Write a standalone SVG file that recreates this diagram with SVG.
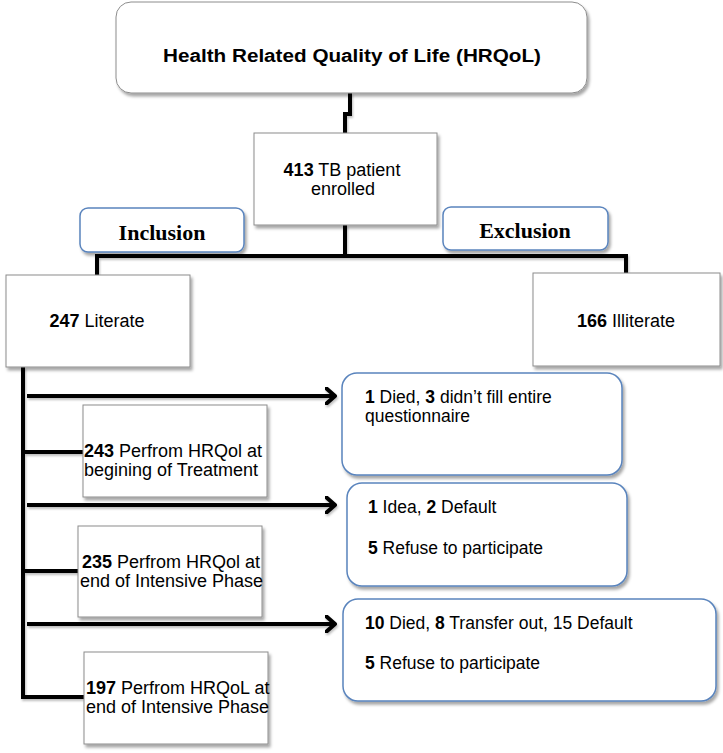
<svg xmlns="http://www.w3.org/2000/svg" width="723" height="753" viewBox="0 0 723 753">
<defs>
<filter id="sh" x="-10%" y="-10%" width="130%" height="130%">
<feDropShadow dx="2" dy="3" stdDeviation="1.5" flood-color="#000" flood-opacity="0.35"/>
</filter>
<filter id="lsh" filterUnits="userSpaceOnUse" x="0" y="0" width="723" height="753">
<feDropShadow dx="1" dy="2" stdDeviation="1" flood-color="#000" flood-opacity="0.25"/>
</filter>
<marker id="chev" viewBox="0 0 12 18" refX="10" refY="9" markerWidth="12" markerHeight="18" markerUnits="userSpaceOnUse" orient="auto">
<path d="M1.5,1.5 L10,9 L1.5,16.5" fill="none" stroke="#000" stroke-width="4" stroke-linecap="round" stroke-linejoin="round"/>
</marker>
</defs>
<style>
.box{fill:#fff;stroke:#8c8c8c;stroke-width:1;filter:url(#sh)}
.rbox{fill:#fff;stroke:#5a84bd;stroke-width:1.5;filter:url(#sh)}
.ln{fill:none;stroke:#000;stroke-width:4;stroke-linejoin:miter}
.t{font-family:"Liberation Sans",Arial,sans-serif;font-size:18px;fill:#000}
.r{font-size:17.5px}
.b{font-weight:bold}
.tm{font-family:"Liberation Serif","Times New Roman",serif;font-size:22px;font-weight:bold;fill:#000}
</style>
<g id="connectors" filter="url(#lsh)">
<path class="ln" d="M350,93 V114 H345 V135"/>
<path class="ln" d="M345,225 V256"/>
<path class="ln" d="M97,275 V256 H626 V274"/>
<path class="ln" d="M23,367 V699"/>
<path class="ln" d="M23,452 H83"/>
<path class="ln" d="M23,571 H78"/>
<path class="ln" d="M23,697 H84"/>
<path class="ln" d="M27,396 H335" marker-end="url(#chev)"/>
<path class="ln" d="M27,505 H335" marker-end="url(#chev)"/>
<path class="ln" d="M27,624 H335" marker-end="url(#chev)"/>
</g>
<g id="title">
<rect class="box" x="116" y="2" width="471" height="91" rx="15"/>
<text class="t b" x="352" y="62" text-anchor="middle" font-size="19.5" textLength="378" lengthAdjust="spacingAndGlyphs">Health Related Quality of Life (HRQoL)</text>
</g>
<g id="enrolled">
<rect class="box" x="254" y="133" width="183" height="92"/>
<text class="t" x="342" y="176" text-anchor="middle"><tspan class="b">413</tspan> TB patient</text>
<text class="t" x="343" y="195" text-anchor="middle">enrolled</text>
</g>
<g id="inclusion">
<rect class="rbox" x="80" y="208" width="164" height="44" rx="8"/>
<text class="tm" x="162" y="240" text-anchor="middle">Inclusion</text>
</g>
<g id="exclusion">
<rect class="rbox" x="443" y="207" width="165" height="43" rx="8"/>
<text class="tm" x="525" y="238" text-anchor="middle">Exclusion</text>
</g>
<g id="literate">
<rect class="box" x="6" y="275" width="184" height="92"/>
<text class="t" x="97" y="327" text-anchor="middle"><tspan class="b">247</tspan> Literate</text>
</g>
<g id="illiterate">
<rect class="box" x="533" y="273" width="187" height="93"/>
<text class="t" x="626" y="327" text-anchor="middle"><tspan class="b">166</tspan> Illiterate</text>
</g>
<g id="begin">
<rect class="box" x="83" y="405" width="184" height="92"/>
<text class="t" x="84" y="457"><tspan class="b">243</tspan> Perfrom HRQol at</text>
<text class="t" x="84" y="476">begining of Treatment</text>
</g>
<g id="intensive1">
<rect class="box" x="78" y="526" width="184" height="91"/>
<text class="t" x="82" y="568"><tspan class="b">235</tspan> Perfrom HRQol at</text>
<text class="t" x="80" y="587">end of Intensive Phase</text>
</g>
<g id="intensive2">
<rect class="box" x="84" y="652" width="184" height="92"/>
<text class="t" x="86" y="694"><tspan class="b">197</tspan> Perfrom HRQoL at</text>
<text class="t" x="86" y="713">end of Intensive Phase</text>
</g>
<g id="loss1">
<rect class="rbox" x="342" y="373" width="280" height="102" rx="15"/>
<text class="t r" x="365" y="403"><tspan class="b">1</tspan> Died, <tspan class="b">3</tspan> didn’t fill entire</text>
<text class="t r" x="365" y="422">questionnaire</text>
</g>
<g id="loss2">
<rect class="rbox" x="347" y="483" width="280" height="103" rx="15"/>
<text class="t r" x="368" y="513"><tspan class="b">1</tspan> Idea, <tspan class="b">2</tspan> Default</text>
<text class="t r" x="368" y="554"><tspan class="b">5</tspan> Refuse to participate</text>
</g>
<g id="loss3">
<rect class="rbox" x="343" y="599" width="373" height="102" rx="15"/>
<text class="t r" x="365" y="629"><tspan class="b">10</tspan> Died, <tspan class="b">8</tspan> Transfer out, 15 Default</text>
<text class="t r" x="365" y="669"><tspan class="b">5</tspan> Refuse to participate</text>
</g>
</svg>
